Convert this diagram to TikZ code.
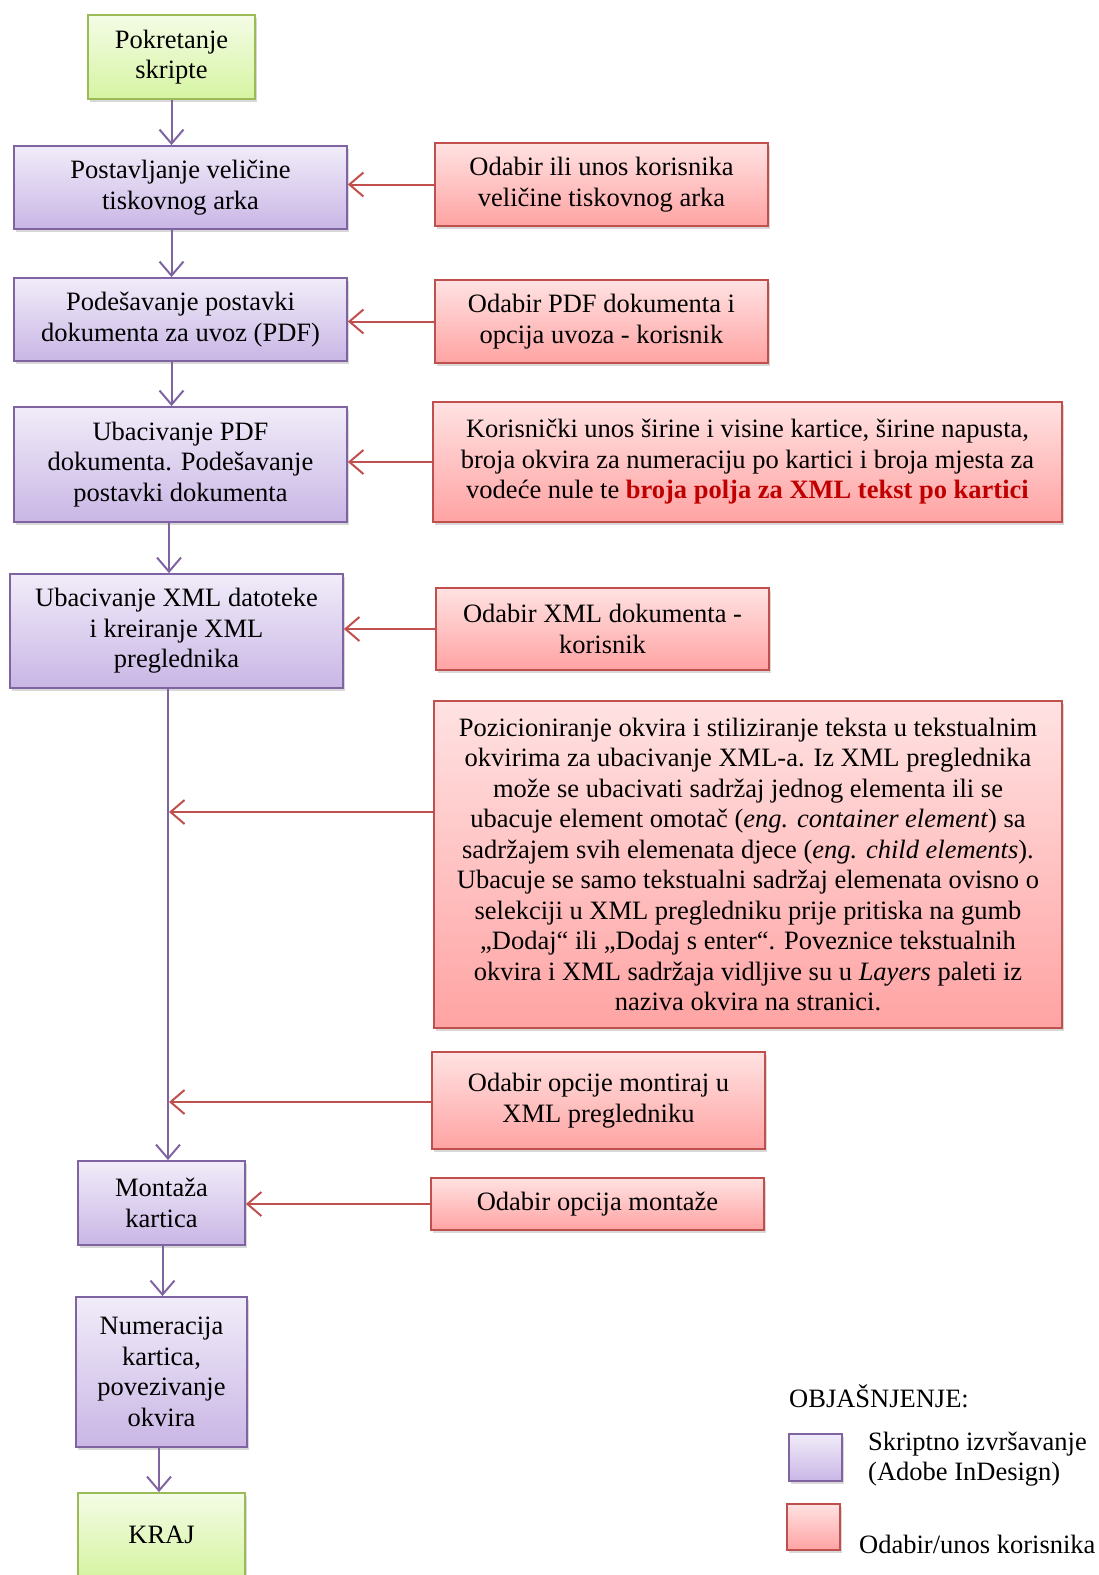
\documentclass[tikz,border=0pt]{standalone}
\usepackage{fontspec}
\setmainfont{Liberation Serif}
\usetikzlibrary{shadows,arrows.meta,calc}
\definecolor{pbd}{HTML}{8064A2}
\definecolor{ptop}{HTML}{F1ECF9}
\definecolor{pbot}{HTML}{C9B6E5}
\definecolor{rbd}{HTML}{C0504D}
\definecolor{rtop}{HTML}{FFE2E2}
\definecolor{rbot}{HTML}{FFA3A3}
\definecolor{gbd}{HTML}{9BBB59}
\definecolor{gtop}{HTML}{F4FCE6}
\definecolor{gbot}{HTML}{D6F4A2}
\definecolor{bred}{HTML}{C00000}
\begin{document}
\begin{tikzpicture}[x=1pt,y=-1pt,
  box/.style={draw, line width=1.8pt, align=center, inner sep=0pt,
    font=\fontsize{26.5}{30.5}\selectfont,
    drop shadow={shadow xshift=2pt,shadow yshift=-3pt,opacity=0.3}},
  pbox/.style={box, draw=pbd, top color=ptop, bottom color=pbot},
  rbox/.style={box, draw=rbd, top color=rtop, bottom color=rbot},
  gbox/.style={box, draw=gbd, top color=gtop, bottom color=gbot},
  parr/.style={draw=pbd, line width=2pt, -{Straight Barb[length=14pt,width=24pt,line width=2pt]}},
  rarr/.style={draw=rbd, line width=2pt, -{Straight Barb[length=14pt,width=24pt,line width=2pt]}},
  lbl/.style={font=\fontsize{26.5}{30.5}\selectfont, align=left, inner sep=0pt}
]
\useasboundingbox (0,0) rectangle (1099,1575);
\fill[white] (0,0) rectangle (1099,1575);

% process boxes
\node[gbox, minimum width=167pt, minimum height=84pt] (n1) at (171.5,57) {Pokretanje\\skripte};
\node[pbox, minimum width=333pt, minimum height=83pt] (n2) at (180.5,187.5) {Postavljanje veličine\\tiskovnog arka};
\node[pbox, minimum width=333pt, minimum height=83pt] (n4) at (180.5,319.5) {Podešavanje postavki\\dokumenta za uvoz (PDF)};
\node[pbox, minimum width=333pt, minimum height=115pt] (n6) at (180.5,464.5) {Ubacivanje PDF\\dokumenta. Podešavanje\\postavki dokumenta};
\node[pbox, minimum width=333pt, minimum height=114pt] (n8) at (176.5,631) {Ubacivanje XML datoteke\\i kreiranje XML\\preglednika};
\node[pbox, minimum width=167pt, minimum height=84pt] (n13) at (161.5,1203) {Montaža\\kartica};
\node[pbox, minimum width=171pt, minimum height=150pt] (n14) at (161.5,1372) {Numeracija\\kartica,\\povezivanje\\okvira};
\node[gbox, minimum width=167pt, minimum height=84pt] (n15) at (161.5,1535) {KRAJ};

% user boxes
\node[rbox, minimum width=333pt, minimum height=83pt] (n3) at (601.5,184.5) {Odabir ili unos korisnika\\veličine tiskovnog arka};
\node[rbox, minimum width=333pt, minimum height=83pt] (n5) at (601.5,321.5) {Odabir PDF dokumenta i\\opcija uvoza - korisnik};
\node[rbox, minimum width=629pt, minimum height=120pt] (n7) at (747.5,462) {Korisnički unos širine i visine kartice, širine napusta,\\broja okvira za numeraciju po kartici i broja mjesta za\\vodeće nule te \textbf{\color{bred}broja polja za XML tekst po kartici}};
\node[rbox, minimum width=333pt, minimum height=82pt] (n9) at (602.5,629) {Odabir XML dokumenta -\\korisnik};
\node[rbox, minimum width=628pt, minimum height=327pt] (n10) at (748,864.5) {Pozicioniranje okvira i stiliziranje teksta u tekstualnim\\okvirima za ubacivanje XML-a. Iz XML preglednika\\može se ubacivati sadržaj jednog elementa ili se\\ubacuje element omotač (\textit{eng. container element}) sa\\sadržajem svih elemenata djece (\textit{eng. child elements}).\\Ubacuje se samo tekstualni sadržaj elemenata ovisno o\\selekciji u XML pregledniku prije pritiska na gumb\\„Dodaj“ ili „Dodaj s enter“. Poveznice tekstualnih\\okvira i XML sadržaja vidljive su u \textit{Layers} paleti iz\\naziva okvira na stranici.};
\node[rbox, minimum width=333pt, minimum height=97pt] (n11) at (598.5,1100.5) {Odabir opcije montiraj u\\XML pregledniku};
\node[rbox, minimum width=333pt, minimum height=52pt] (n12) at (597.5,1204) {Odabir opcija montaže};

% spine coordinates
\coordinate (s10) at (168,812);
\coordinate (s11) at (168,1102);

% vertical arrows
\draw[parr] (n1.south) -- (n1.south |- n2.north);
\draw[parr] (n2.south -| n1.south) -- (n4.north -| n1.south);
\draw[parr] (n4.south -| n1.south) -- (n6.north -| n1.south);
\draw[parr] ([xshift=-11.5pt]n6.south) -- ([xshift=-7.5pt]n8.north);
\draw[parr] (n8.south -| s10) -- (n13.north -| s10);
\draw[parr] ([xshift=1pt]n13.south) -- ([xshift=1pt]n14.north);
\draw[parr] ([xshift=-2.5pt]n14.south) -- ([xshift=-2.5pt]n15.north);

% horizontal arrows
\draw[rarr] (n3.west) -- (n3.west -| n2.east);
\draw[rarr] (n5.west) -- (n5.west -| n4.east);
\draw[rarr] (n7.west) -- (n7.west -| n6.east);
\draw[rarr] (n9.west) -- (n9.west -| n8.east);
\draw[rarr] (n10.west |- s10) -- ([xshift=1pt]s10);
\draw[rarr] (n11.west |- s11) -- ([xshift=1pt]s11);
\draw[rarr] (n12.west) -- (n12.west -| n13.east);

% legend
\node[lbl, anchor=west] (lt) at (789,1396) {OBJAŠNJENJE:};
\node[pbox, minimum width=53pt, minimum height=47pt] (lp) at (815.5,1457.5) {};
\node[lbl, anchor=west] (lpt) at (868,1459) {Skriptno izvršavanje\\(Adobe InDesign)};
\node[rbox, minimum width=53pt, minimum height=46pt] (lr) at (813.5,1527) {};
\node[lbl, anchor=west] (lrt) at (859,1544) {Odabir/unos korisnika};
\end{tikzpicture}
\end{document}
